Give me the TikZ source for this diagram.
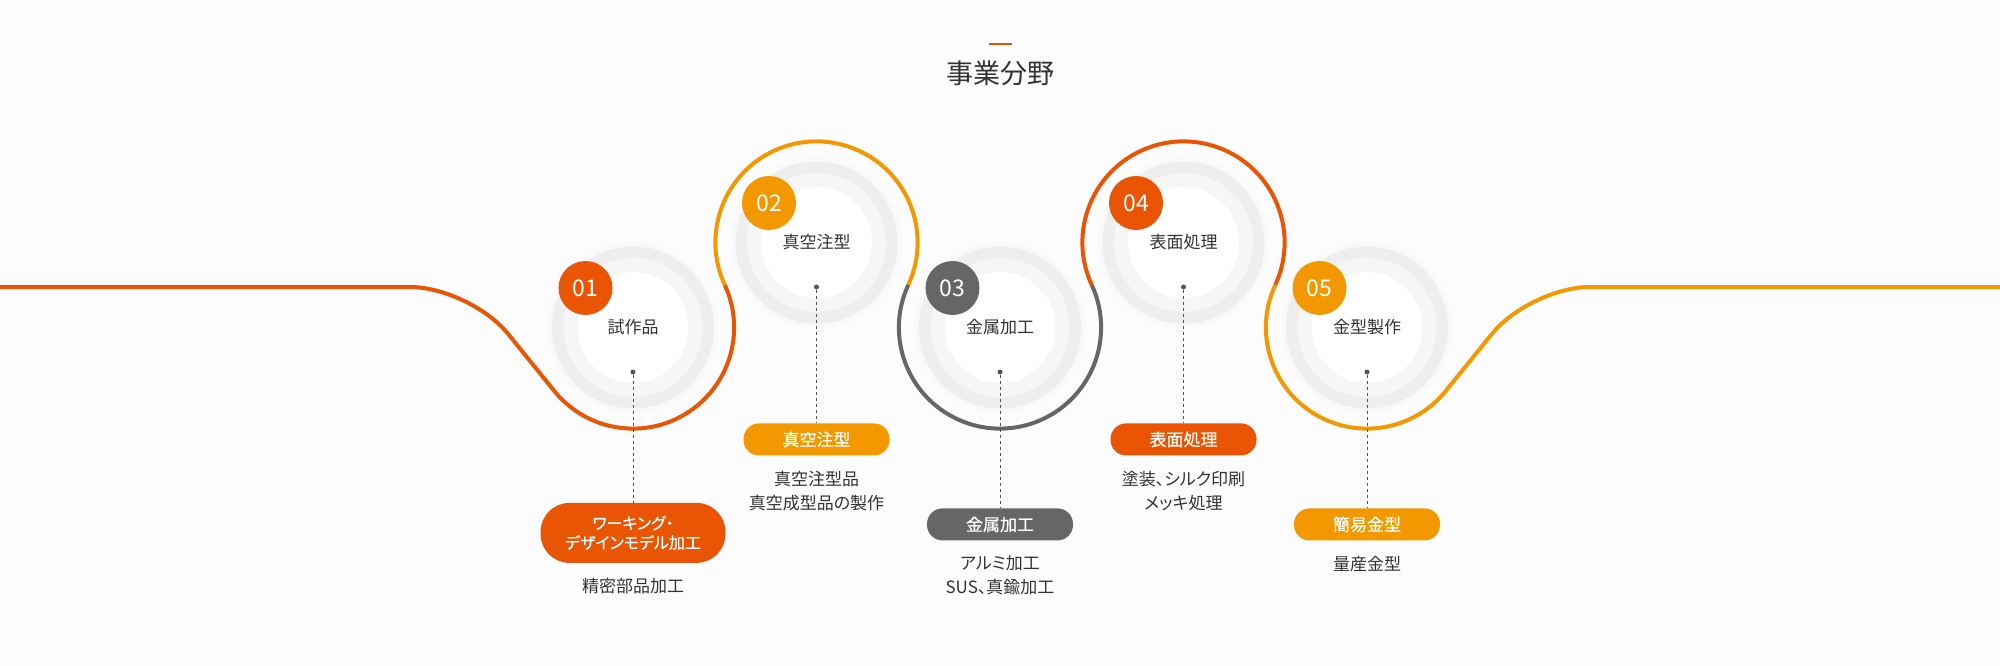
\documentclass[tikz,border=0pt]{standalone}
\usepackage{fontspec}
\setmainfont{Noto Sans CJK JP}[RawFeature=+palt]
\newfontfamily\pillfont{Noto Sans CJK JP}[RawFeature=+palt, FakeBold=0.6]
\usetikzlibrary{calc, positioning}
\definecolor{brandred}{HTML}{E95504}
\definecolor{brandorange}{HTML}{F39800}
\definecolor{brandgray}{HTML}{666666}
\definecolor{inkgray}{HTML}{333333}
\definecolor{pagebg}{HTML}{FCFCFC}

\begin{document}
\begin{tikzpicture}[
    x=1pt, y=1pt,
    track/.style={line width=4pt, radius=101.12pt},
    halo/.style={circle, fill=black!2.5, minimum size=170pt, inner sep=0pt},
    ringout/.style={circle, fill=black!6.5, minimum size=162pt, inner sep=0pt},
    ringmid/.style={circle, fill=black!3.5, minimum size=139pt, inner sep=0pt},
    ringin/.style={circle, fill=white, minimum size=111pt, inner sep=0pt,
        text=inkgray, font=\fontsize{17}{20}\selectfont},
    badge/.style={circle, minimum size=54pt, inner sep=0pt, text=white,
        font=\fontsize{23}{26}\selectfont},
    pin/.style={circle, fill=black!67, minimum size=5pt, inner sep=0pt},
    leader/.style={draw=black!67, line width=0.9pt, dash pattern=on 3.5pt off 2.5pt},
    pill/.style={rounded corners=15.5pt, minimum width=146pt, minimum height=32pt,
        inner sep=0pt, text=white, align=center, font=\pillfont\fontsize{17}{20}\selectfont},
    desc/.style={inner sep=0pt, align=center, text=inkgray,
        font=\fontsize{17}{24}\selectfont}
]
\useasboundingbox[fill=pagebg] (0,0) rectangle (2000,-666);
\node[text=inkgray, font=\fontsize{27}{30}\selectfont] (title) at (1000,-73) {事業分野};
\node[fill=brandred, minimum width=23pt, minimum height=2pt, inner sep=0pt] (dash) at (1000,-44) {};

\coordinate (c1) at (633,-327.5);
\coordinate (c2) at (816.5,-242.5);
\coordinate (c3) at (1000,-327.5);
\coordinate (c4) at (1183.5,-242.5);
\coordinate (c5) at (1367,-327.5);
\coordinate (m12) at ($(c1)!0.5!(c2)$);
\coordinate (m23) at ($(c2)!0.5!(c3)$);
\coordinate (m34) at ($(c3)!0.5!(c4)$);
\coordinate (m45) at ($(c4)!0.5!(c5)$);
\coordinate (t1) at ($(c1)+(219:101.12pt)$);
\coordinate (t5) at ($(c5)+(321:101.12pt)$);
\coordinate (k1) at ($(t1)+(129:134pt)$);
\coordinate (k5) at ($(t5)+(51:134pt)$);
\coordinate (lend) at (0,-287);
\coordinate (rend) at (2000,-287);

\draw[track, brandred, rounded corners=60pt] (lend) -- (k1) -- (t1);
\draw[track, brandred] (t1) arc[start angle=219, end angle=384.85];
\draw[track, brandorange] (m12) arc[start angle=204.85, end angle=-24.85];
\draw[track, brandgray] (m23) arc[start angle=155.15, end angle=384.85];
\draw[track, brandred] (m34) arc[start angle=204.85, end angle=-24.85];
\draw[track, brandorange] (m45) arc[start angle=155.15, end angle=321];
\draw[track, brandorange, rounded corners=60pt] (t5) -- (k5) -- (rend);

\node[halo] at (c1) {}; \node[ringout] at (c1) {}; \node[ringmid] at (c1) {};
\node[ringin] (s1) at (c1) {試作品};
\node[halo] at (c2) {}; \node[ringout] at (c2) {}; \node[ringmid] at (c2) {};
\node[ringin] (s2) at (c2) {真空注型};
\node[halo] at (c3) {}; \node[ringout] at (c3) {}; \node[ringmid] at (c3) {};
\node[ringin] (s3) at (c3) {金属加工};
\node[halo] at (c4) {}; \node[ringout] at (c4) {}; \node[ringmid] at (c4) {};
\node[ringin] (s4) at (c4) {表面処理};
\node[halo] at (c5) {}; \node[ringout] at (c5) {}; \node[ringmid] at (c5) {};
\node[ringin] (s5) at (c5) {金型製作};

\node[badge, fill=brandred] (b1) at ($(c1)+(-47.5,39.5)$) {01};
\node[badge, fill=brandorange] (b2) at ($(c2)+(-47.5,39.5)$) {02};
\node[badge, fill=brandgray] (b3) at ($(c3)+(-47.5,39.5)$) {03};
\node[badge, fill=brandred] (b4) at ($(c4)+(-47.5,39.5)$) {04};
\node[badge, fill=brandorange] (b5) at ($(c5)+(-47.5,39.5)$) {05};

\node[pin] (pin1) at ($(c1)+(0,-44.5)$) {};
\node[pin] (pin2) at ($(c2)+(0,-44.5)$) {};
\node[pin] (pin3) at ($(c3)+(0,-44.5)$) {};
\node[pin] (pin4) at ($(c4)+(0,-44.5)$) {};
\node[pin] (pin5) at ($(c5)+(0,-44.5)$) {};

\node[pill, fill=brandred, minimum width=185pt, minimum height=60pt, rounded corners=29pt,
    font=\pillfont\fontsize{16}{19.5}\selectfont, below=128pt of pin1] (tag1) {ワーキング・\\デザインモデル加工};
\node[pill, fill=brandorange, below=133.5pt of pin2] (tag2) {真空注型};
\node[pill, fill=brandgray, below=133.5pt of pin3] (tag3) {金属加工};
\node[pill, fill=brandred, below=133.5pt of pin4] (tag4) {表面処理};
\node[pill, fill=brandorange, below=133.5pt of pin5] (tag5) {簡易金型};

\draw[leader] (pin1) -- (tag1);
\draw[leader] (pin2) -- (tag2);
\draw[leader] (pin3) -- (tag3);
\draw[leader] (pin4) -- (tag4);
\draw[leader] (pin5) -- (tag5);

\node[desc, below=15pt of tag1] (desc1) {精密部品加工};
\node[desc, below=15pt of tag2] (desc2) {真空注型品\\真空成型品の製作};
\node[desc, below=15pt of tag3] (desc3) {アルミ加工\\SUS、真鍮加工};
\node[desc, below=15pt of tag4] (desc4) {塗装、シルク印刷\\メッキ処理};
\node[desc, below=15pt of tag5] (desc5) {量産金型};
\end{tikzpicture}
\end{document}
